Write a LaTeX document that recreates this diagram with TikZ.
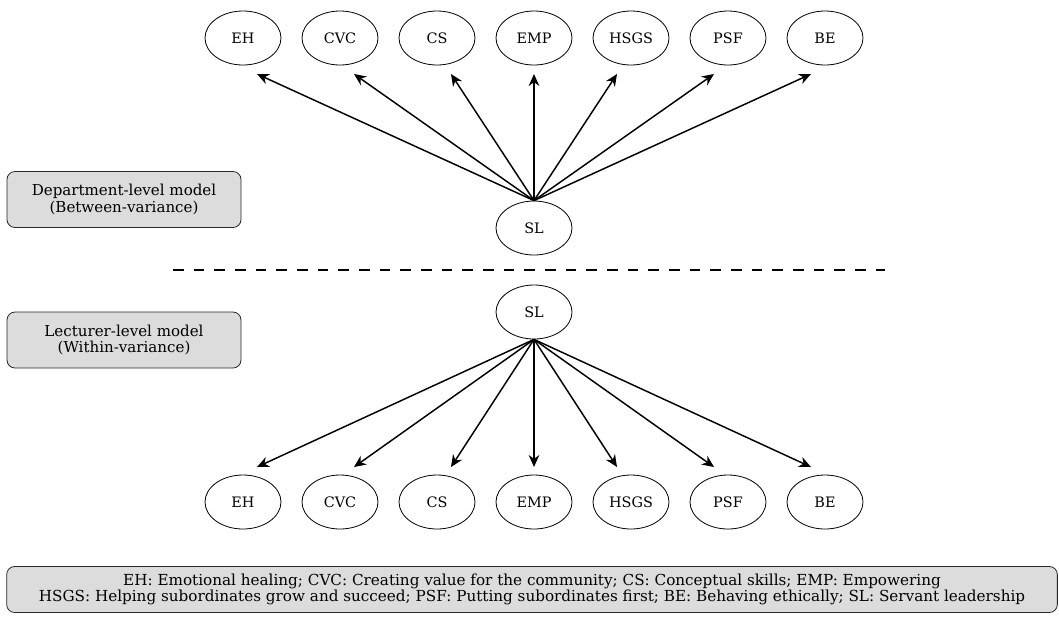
\documentclass[tikz,border=0pt]{standalone}
\usepackage{fontspec}
\setmainfont{DejaVu Serif}
\usetikzlibrary{arrows.meta,positioning,calc,shapes.geometric}
\definecolor{boxgray}{RGB}{220,220,220}
\definecolor{edgegray}{RGB}{40,40,40}
\tikzset{
  latent/.style={ellipse, draw, line width=0.6pt, minimum width=57pt, minimum height=40.5pt,
    inner sep=0pt, font=\fontsize{10.8}{12}\selectfont},
  levelbox/.style={rounded corners=6pt, draw=edgegray, fill=boxgray, line width=0.6pt,
    minimum width=175.5pt, minimum height=42pt, align=center, font=\fontsize{11.3}{12.5}\selectfont},
  keybox/.style={rounded corners=6pt, draw=edgegray, fill=boxgray, line width=0.6pt,
    minimum width=788pt, minimum height=34.5pt, align=center, inner sep=0pt,
    font=\fontsize{11.4}{12.2}\selectfont},
  loadln/.style={-{Stealth[length=9pt,width=8pt]}, line width=1.1pt},
  splitln/.style={dash pattern=on 8pt off 7.5pt, line width=1.6pt},
}

\begin{document}
\begin{tikzpicture}[x=0.75pt, y=-0.75pt]
  \useasboundingbox (0,0) rectangle (1059,619);
  % department level (between)
  \node[latent] (sl-top) at (534,228) {SL};
  \foreach \nm/\lab/\off [count=\i from 0] in {eh/EH/14, cvc/CVC/14, cs/CS/14, emp/EMP/0,
      hsgs/HSGS/-14, psf/PSF/-14, be/BE/-14} {
    \node[latent] (top-\nm) at ({243+97*\i},38) {\lab};
    \coordinate (in-top-\nm) at ({243+97*\i+\off},74);
    \draw[loadln] (sl-top.north) -- (in-top-\nm);
  }
  \node[levelbox] (dept) at (124,199.5) {Department-level model\\(Between-variance)};
  % split between the two levels
  \coordinate (split-l) at (173,270);
  \coordinate (split-r) at (885,270);
  \draw[splitln] (split-l) -- (split-r);
  % lecturer level (within)
  \node[latent] (sl-bot) at (534,312) {SL};
  \foreach \nm/\lab/\off [count=\i from 0] in {eh/EH/14, cvc/CVC/14, cs/CS/14, emp/EMP/0,
      hsgs/HSGS/-14, psf/PSF/-14, be/BE/-14} {
    \node[latent] (bot-\nm) at ({243+97*\i},502) {\lab};
    \coordinate (in-bot-\nm) at ({243+97*\i+\off},467);
    \draw[loadln] (sl-bot.south) -- (in-bot-\nm);
  }
  \node[levelbox] (lect) at (124,340) {Lecturer-level model\\(Within-variance)};
  % abbreviations
  \node[keybox] (key) at (532,589.5) {EH: Emotional healing; CVC: Creating value for the community; CS: Conceptual skills; EMP: Empowering\\
    HSGS: Helping subordinates grow and succeed; PSF: Putting subordinates first; BE: Behaving ethically; SL: Servant leadership};
\end{tikzpicture}
\end{document}
